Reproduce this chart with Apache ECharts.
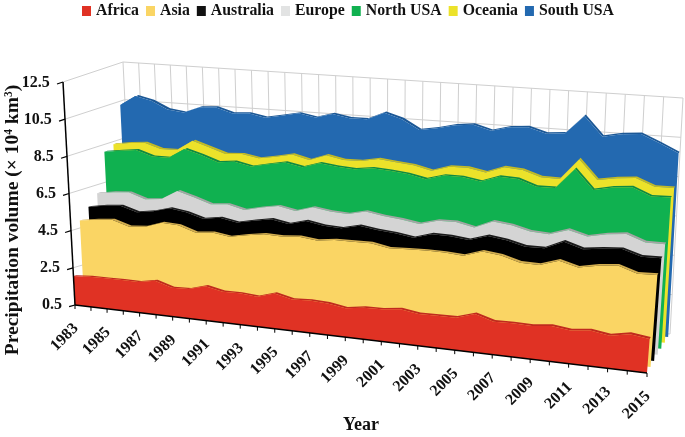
<!DOCTYPE html>
<html>
<head>
<meta charset="utf-8">
<style>
  html, body { margin: 0; padding: 0; background: #fff; }
  #chart { width: 685px; height: 437px; }
</style>
<script src="https://cdn.jsdelivr.net/npm/echarts@6/dist/echarts.min.js"></script>
</head>
<body>
<div id="chart"></div>
<script>
var years = [];
for (var yr = 1983; yr <= 2015; yr++) years.push(String(yr));

var yTicks = [0.5, 2.5, 4.5, 6.5, 8.5, 10.5, 12.5];
var seriesNames = ["Africa", "Asia", "Australia", "Europe", "North USA", "Oceania", "South USA"];

var africa = [2.06, 2.12, 2.13, 2.14, 2.13, 2.30, 2.03, 2.06, 2.31, 2.12, 2.14, 2.06, 2.34, 2.13, 2.17, 2.13, 1.98,
  2.12, 2.14, 2.25, 2.11, 2.13, 2.14, 2.43, 2.15, 2.18, 2.15, 2.26, 2.14, 2.25, 2.11, 2.29, 2.17];
var asia = [4.89, 5.02, 5.11, 4.83, 4.91, 5.21, 5.16, 4.86, 4.95, 4.82, 4.99, 5.13, 5.10, 5.18, 5.07, 5.19, 5.20,
  5.21, 5.04, 5.08, 5.11, 5.10, 5.04, 5.34, 5.23, 4.97, 4.95, 5.26, 5.01, 5.20, 5.30, 4.99, 5.03];
var australia = [5.48, 5.62, 5.70, 5.43, 5.56, 5.80, 5.67, 5.41, 5.55, 5.38, 5.56, 5.72, 5.56, 5.80, 5.64, 5.59, 5.81,
  5.67, 5.59, 5.45, 5.72, 5.71, 5.60, 5.89, 5.77, 5.53, 5.54, 5.96, 5.67, 5.79, 5.86, 5.57, 5.58];
var europe = [6.05, 6.18, 6.25, 5.96, 6.05, 6.55, 6.29, 6.00, 6.08, 5.86, 6.06, 6.22, 6.04, 6.31, 6.17, 6.13, 6.33,
  6.18, 6.09, 5.94, 6.19, 6.20, 6.00, 6.39, 6.29, 6.05, 6.00, 6.30, 6.05, 6.25, 6.35, 6.01, 6.01];
var northUsa = [8.12, 8.24, 8.35, 8.06, 8.07, 8.60, 8.35, 8.04, 8.14, 7.95, 8.14, 8.31, 8.13, 8.41, 8.30, 8.24, 8.36,
  8.31, 8.21, 8.02, 8.28, 8.28, 8.12, 8.45, 8.41, 8.09, 8.10, 9.14, 8.15, 8.35, 8.44, 8.05, 8.08];
var oceania = [8.36, 8.49, 8.57, 8.30, 8.31, 8.86, 8.58, 8.30, 8.36, 8.20, 8.35, 8.54, 8.32, 8.63, 8.45, 8.47, 8.64,
  8.54, 8.45, 8.24, 8.52, 8.54, 8.36, 8.70, 8.63, 8.33, 8.32, 9.40, 8.41, 8.57, 8.66, 8.29, 8.30];
var southUsa = [10.30, 10.83, 10.64, 10.24, 10.13, 10.47, 10.53, 10.27, 10.33, 10.16, 10.33, 10.51, 10.35, 10.60, 10.44, 10.45, 10.85,
  10.58, 10.08, 10.23, 10.45, 10.55, 10.30, 10.54, 10.61, 10.34, 10.43, 11.38, 10.39, 10.58, 10.66, 10.26, 9.82];

var seriesValues = [africa, asia, australia, europe, northUsa, oceania, southUsa];
var faceColors = ["#e03224", "#fad564", "#000000", "#d4d4d4", "#10b150", "#ece22a", "#2369b0"];
var edgeColors = ["#c02a1e", "#d3ae4f", "#1a1a1a", "#a5a5a5", "#0e8a44", "#c4bb22", "#1c5896"];
var legendColors = ["#e03224", "#fad564", "#111111", "#e2e3e3", "#10b150", "#ece22a", "#2369b0"];
var depths = [0, 0.155, 0.31, 0.465, 0.62, 0.775, 0.92];

var FONT = "'Liberation Serif', 'Times New Roman', serif";
var TEXT = "#111";

// grid rect = front plane of the box at the left corner, the rest comes from the corners below
var gridLeft = 75, gridWidth = 572, gridTop = 82, gridHeight = 223;

// screen corners of the 3d box, [front/back][left/right][bottom/top]
var corners = {
  fl0: [75, 305], fl1: [63, 82],
  fr0: [647, 373], fr1: [666, 128],
  bl0: [134, 288], bl1: [123, 62],
  br0: [670, 334], br1: [683, 98]
};

function mix(a, b, w) {
  return [a[0] + (b[0] - a[0]) * w, a[1] + (b[1] - a[1]) * w];
}

// takes a point of the flat grid (from api.coord) and pushes it into the box
function skew(c, depth) {
  var t = (c[0] - gridLeft) / gridWidth;
  var f = (gridTop + gridHeight - c[1]) / gridHeight;
  var s = t * (0.89 + 0.11 * t); // years get wider to the right
  var front = mix(mix(corners.fl0, corners.fr0, s), mix(corners.fl1, corners.fr1, s), f);
  var back = mix(mix(corners.bl0, corners.br0, s), mix(corners.bl1, corners.br1, s), f);
  return mix(front, back, depth);
}

function slabRenderer(idx) {
  return function (params, api) {
    if (params.dataIndex !== 0) return null;
    var values = seriesValues[idx];
    var d = depths[idx];
    var top = [], topBack = [], bottom = [];
    for (var k = 0; k < values.length; k++) {
      top.push(skew(api.coord([k, values[k]]), d));
      topBack.push(skew(api.coord([k, values[k]]), d + 0.05));
      bottom.push(skew(api.coord([k, yTicks[0]]), d));
    }
    return {
      type: "group",
      children: [
        { type: "polygon", shape: { points: top.concat(topBack.slice().reverse()) }, style: { fill: edgeColors[idx] } },
        { type: "polygon", shape: { points: top.concat(bottom.slice().reverse()) }, style: { fill: faceColors[idx] } }
      ]
    };
  };
}

function line(a, b, color, width) {
  return {
    type: "line",
    shape: { x1: a[0], y1: a[1], x2: b[0], y2: b[1] },
    style: { stroke: color, lineWidth: width }
  };
}

function wallRenderer(params, api) {
  if (params.dataIndex !== 0) return null;
  var kids = [];
  var last = years.length - 1;
  var GRID = "#cfcfcf";
  years.forEach(function (y, k) {
    kids.push(line(skew(api.coord([k, yTicks[0]]), 1), skew(api.coord([k, yTicks[yTicks.length - 1]]), 1), GRID, 1));
  });
  yTicks.forEach(function (v) {
    kids.push(line(skew(api.coord([0, v]), 0), skew(api.coord([0, v]), 1), GRID, 1));
    kids.push(line(skew(api.coord([0, v]), 1), skew(api.coord([last, v]), 1), GRID, 1));
  });
  return { type: "group", children: kids };
}

function axisRenderer(params, api) {
  if (params.dataIndex !== 0) return null;
  var kids = [];
  var last = years.length - 1;
  var top = yTicks[yTicks.length - 1];
  kids.push(line(skew(api.coord([0, yTicks[0]]), 0), skew(api.coord([0, top]), 0), "#000", 1.5));
  kids.push(line(skew(api.coord([0, yTicks[0]]), 0), skew(api.coord([last, yTicks[0]]), 0), "#000", 1.5));
  yTicks.forEach(function (v) {
    var c = api.coord([0, v]);
    kids.push(line(skew(c, 0), skew(c, -0.1), "#000", 1.2));
    var p = skew(c, -0.22);
    kids.push({
      type: "text", x: p[0], y: p[1] - 4,
      style: { text: v.toFixed(1), fill: TEXT, font: "bold 16px " + FONT, align: "right", verticalAlign: "middle" }
    });
  });
  years.forEach(function (y, k) {
    var p = skew(api.coord([k, yTicks[0]]), 0);
    kids.push(line(p, [p[0], p[1] + 4], "#000", 1));
    if (k % 2 === 0) {
      kids.push({
        type: "text", x: p[0] + 1, y: p[1] + 21, rotation: Math.PI / 4,
        style: { text: y, fill: TEXT, font: "bold 16px " + FONT, align: "right", verticalAlign: "middle" }
      });
    }
  });
  return { type: "group", children: kids };
}

var series = [
  { name: "wall", type: "custom", z: 1, silent: true, renderItem: wallRenderer, data: [[0, yTicks[0]]] }
];
seriesNames.forEach(function (name, i) {
  series.push({
    name: name,
    type: "custom",
    z: 10 - i,
    silent: true,
    itemStyle: { color: legendColors[i] },
    renderItem: slabRenderer(i),
    data: seriesValues[i].map(function (v, k) { return [k, v]; })
  });
});
series.push({ name: "axes", type: "custom", z: 20, silent: true, renderItem: axisRenderer, data: [[0, yTicks[0]]] });

var chart = echarts.init(document.getElementById("chart"), null, { renderer: "canvas" });
chart.setOption({
  animation: false,
  backgroundColor: "#fff",
  textStyle: { fontFamily: FONT },
  legend: {
    data: seriesNames,
    top: -2,
    left: 77,
    icon: "rect",
    itemWidth: 9,
    itemHeight: 10,
    itemGap: 7,
    selectedMode: false,
    textStyle: { color: TEXT, fontFamily: FONT, fontWeight: "bold", fontSize: 15.8 }
  },
  grid: { left: gridLeft, top: gridTop, width: gridWidth, height: gridHeight, outerBoundsMode: "none" },
  xAxis: {
    type: "category",
    data: years,
    boundaryGap: false,
    name: "Year",
    nameLocation: "middle",
    nameGap: 111,
    nameTextStyle: { color: TEXT, fontFamily: FONT, fontWeight: "bold", fontSize: 18 },
    axisLine: { show: false },
    axisTick: { show: false },
    axisLabel: { show: false },
    splitLine: { show: false }
  },
  yAxis: {
    type: "value",
    min: yTicks[0],
    max: yTicks[yTicks.length - 1],
    interval: 2,
    axisLine: { show: false },
    axisTick: { show: false },
    axisLabel: { show: false },
    splitLine: { show: false }
  },
  graphic: [{
    type: "text",
    x: 13,
    y: 220,
    rotation: Math.PI / 2,
    style: {
      text: "{t|Precipitation volume (× 10}{s|4}{t| km}{s|3}{t|)}",
      align: "center",
      verticalAlign: "middle",
      rich: {
        t: { font: "bold 19.5px " + FONT, fill: TEXT },
        s: { font: "bold 11.5px " + FONT, fill: TEXT, verticalAlign: "top" }
      }
    }
  }],
  series: series
});
</script>
</body>
</html>
